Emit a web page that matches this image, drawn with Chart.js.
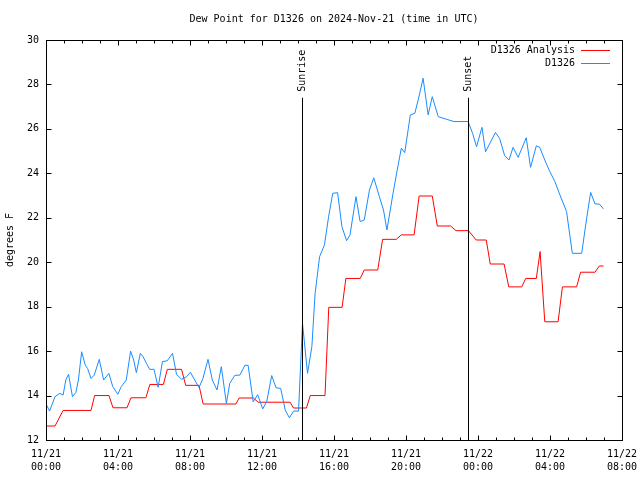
<!DOCTYPE html>
<html>
<head>
<meta charset="utf-8">
<title>Dew Point D1326</title>
<script src="https://cdn.jsdelivr.net/npm/chart.js@4.4.1/dist/chart.umd.min.js"></script>
<style>
  html, body { margin: 0; padding: 0; background: #fff; }
</style>
</head>
<body>
<canvas id="myChart" width="640" height="480"></canvas>
<script>
// hours since 2024-11-21 00:00 UTC
const obsHours = [
  0, 0.2, 0.5, 0.77, 0.95, 1.1, 1.25, 1.47, 1.66, 1.8,
  1.98, 2.18, 2.31, 2.5, 2.68, 2.96, 3.2, 3.49, 3.71, 3.99,
  4.18, 4.46, 4.7, 4.87, 5.02, 5.24, 5.39, 5.58, 5.76, 6.0,
  6.23, 6.47, 6.73, 7.03, 7.25, 7.53, 7.81, 8.02, 8.26, 8.5,
  8.72, 9.0, 9.24, 9.5, 9.74, 10.02, 10.21, 10.49, 10.77, 11.05,
  11.23, 11.51, 11.76, 12.04, 12.26, 12.54, 12.78, 13.04, 13.29, 13.52,
  13.75, 14.03, 14.25, 14.53, 14.77, 14.95, 15.2, 15.47, 15.7, 15.93,
  16.2, 16.44, 16.7, 16.89, 17.22, 17.45, 17.68, 17.97, 18.21, 18.52,
  18.75, 18.94, 19.28, 19.5, 19.74, 19.93, 20.24, 20.49, 20.73, 20.95,
  21.23, 21.46, 21.79, 22.26, 22.67, 23.45, 23.7, 23.92, 24.22, 24.42,
  24.97, 25.2, 25.48, 25.72, 25.95, 26.23, 26.68, 26.92, 27.24, 27.43,
  27.71, 27.99, 28.27, 28.55, 28.92, 29.24, 29.76, 30.04, 30.26, 30.5,
  30.74, 30.97
];
const obsDewPoint = [
  13.62, 13.3, 13.95, 14.1, 14.02, 14.7, 14.96, 13.95, 14.14, 14.7,
  15.97, 15.37, 15.22, 14.77, 14.92, 15.63, 14.7, 15.0, 14.4, 14.06,
  14.4, 14.7, 16.0, 15.6, 15.03, 15.9, 15.75, 15.45, 15.18, 15.18,
  14.37, 15.53, 15.56, 15.9, 14.96, 14.73, 14.85, 15.05, 14.7, 14.36,
  14.77, 15.63, 14.7, 14.25, 15.3, 13.65, 14.55, 14.91, 14.92, 15.36,
  15.36, 13.72, 14.04, 13.4, 13.72, 14.9, 14.35, 14.32, 13.35, 13.0,
  13.3, 13.3, 17.25, 15.0, 16.2, 18.6, 20.25, 20.78, 22.05, 23.1,
  23.13, 21.6, 20.97, 21.23, 22.95, 21.83, 21.9, 23.25, 23.8, 22.95,
  22.35, 21.45, 23.1, 24.1, 25.13, 24.93, 26.63, 26.7, 27.48, 28.28,
  26.63, 27.45, 26.55, 26.43, 26.33, 26.33, 25.8, 25.2, 26.07, 24.97,
  25.84, 25.57, 24.8, 24.6, 25.17, 24.72, 25.6, 24.27, 25.24, 25.17,
  24.6, 24.08, 23.63, 23.03, 22.28, 20.4, 20.4, 22.0, 23.14, 22.62,
  22.62, 22.4
];

const anaHours = [
  0, 0.5, 0.95, 2.5, 2.7, 3.5, 3.72, 4.5, 4.72, 5.55,
  5.77, 6.52, 6.74, 7.53, 7.76, 8.5, 8.73, 10.55, 10.73, 11.52,
  11.79, 13.56, 13.75, 14.47, 14.68, 15.5, 15.71, 16.45, 16.66, 17.46,
  17.68, 18.43, 18.7, 19.46, 19.74, 20.45, 20.73, 21.46, 21.74, 22.48,
  22.78, 23.47, 23.9, 24.46, 24.68, 25.45, 25.71, 26.43, 26.65, 27.24,
  27.45, 27.71, 28.45, 28.69, 29.48, 29.7, 30.5, 30.74, 30.97
];
const anaDewPoint = [
  12.63, 12.63, 13.33, 13.33, 14.0, 14.0, 13.45, 13.45, 13.9, 13.9,
  14.5, 14.5, 15.18, 15.18, 14.46, 14.46, 13.62, 13.62, 13.89, 13.89,
  13.7, 13.7, 13.44, 13.44, 14.0, 14.0, 17.97, 17.97, 19.27, 19.27,
  19.65, 19.65, 21.03, 21.03, 21.23, 21.23, 22.98, 22.98, 21.63, 21.63,
  21.42, 21.42, 21.0, 21.0, 19.92, 19.92, 18.89, 18.89, 19.27, 19.27,
  20.48, 17.32, 17.32, 18.89, 18.89, 19.55, 19.55, 19.83, 19.83
];

const eventNames = ["Sunrise", "Sunset"];
const eventHours = [14.22, 23.46];
const eventTop = 27.4; // degrees F where the marker lines stop

const tickHours = [0, 4, 8, 12, 16, 20, 24, 28, 32];
const tickDates = ["11/21", "11/21", "11/21", "11/21", "11/21", "11/21", "11/22", "11/22", "11/22"];
const tickTimes = ["00:00", "04:00", "08:00", "12:00", "16:00", "20:00", "00:00", "04:00", "08:00"];

const MONO = "'DejaVu Sans Mono', 'Liberation Mono', monospace";
Chart.defaults.font.family = MONO;
Chart.defaults.font.size = 10;
Chart.defaults.color = "#000";

function toPoints(xs, ys) {
  return xs.map((x, i) => ({ x: x, y: ys[i] }));
}

// gnuplot-like frame: box, inward ticks on all sides, sun markers, key
const gnuplotFrame = {
  id: "gnuplotFrame",
  afterDatasetsDraw(chart) {
    const { ctx, chartArea: a, scales } = chart;
    const xs = scales.x, ys = scales.y;
    const L = Math.round(a.left) + 0.5, R = Math.round(a.right) + 0.5;
    const T = Math.round(a.top) + 0.5, B = Math.round(a.bottom) + 0.5;
    ctx.save();
    ctx.strokeStyle = "#000";
    ctx.lineWidth = 1;
    ctx.beginPath();
    for (let h = 0; h <= 32; h++) {
      const px = Math.round(xs.getPixelForValue(h)) + 0.5;
      const len = h % 4 === 0 ? 5 : 3;
      ctx.moveTo(px, B); ctx.lineTo(px, B - len);
      ctx.moveTo(px, T); ctx.lineTo(px, T + len);
    }
    for (let v = 12; v <= 30; v += 2) {
      const py = Math.round(ys.getPixelForValue(v)) + 0.5;
      ctx.moveTo(L, py); ctx.lineTo(L + 5, py);
      ctx.moveTo(R, py); ctx.lineTo(R - 5, py);
    }
    ctx.stroke();
    ctx.strokeRect(L, T, R - L, B - T);

    // sunrise / sunset
    ctx.font = "10px " + MONO;
    ctx.fillStyle = "#000";
    eventHours.forEach((h, i) => {
      const px = Math.round(xs.getPixelForValue(h)) + 0.5;
      const top = ys.getPixelForValue(eventTop);
      ctx.beginPath();
      ctx.moveTo(px, B);
      ctx.lineTo(px, top);
      ctx.stroke();
      ctx.save();
      ctx.translate(px, top - 6);
      ctx.rotate(-Math.PI / 2);
      ctx.textAlign = "left";
      ctx.textBaseline = "middle";
      ctx.fillText(eventNames[i], 0, 0);
      ctx.restore();
    });

    // key, top right inside the plot
    chart.data.datasets.forEach((ds, i) => {
      const rowY = Math.round(a.top + 10 + i * 12.5) + 0.5;
      ctx.textAlign = "right";
      ctx.textBaseline = "middle";
      ctx.fillStyle = "#000";
      ctx.fillText(ds.label, a.right - 47, rowY);
      ctx.strokeStyle = ds.borderColor;
      ctx.beginPath();
      ctx.moveTo(a.right - 41, rowY);
      ctx.lineTo(a.right - 12, rowY);
      ctx.stroke();
    });
    ctx.restore();
  }
};

const ctx = document.getElementById("myChart").getContext("2d");
const chart = new Chart(ctx, {
  type: "line",
  data: {
    datasets: [
      {
        label: "D1326 Analysis",
        data: toPoints(anaHours, anaDewPoint),
        borderColor: "#ff0000",
        borderWidth: 1,
        pointRadius: 0,
        tension: 0,
        order: 1,
      },
      {
        label: "D1326",
        data: toPoints(obsHours, obsDewPoint),
        borderColor: "#1a8cff",
        borderWidth: 1,
        pointRadius: 0,
        tension: 0,
        order: 0,
      },
    ],
  },
  options: {
    responsive: false,
    animation: false,
    layout: { padding: { left: 0, right: 18, top: 0, bottom: 0 } },
    plugins: {
      legend: { display: false },
      tooltip: { enabled: false },
      title: {
        display: true,
        text: "Dew Point for D1326 on 2024-Nov-21 (time in UTC)",
        fullSize: false,
        font: { family: MONO, size: 10, weight: "normal", lineHeight: 1.2 },
        color: "#000",
        padding: { top: 13, bottom: 15 },
      },
    },
    scales: {
      x: {
        type: "linear",
        min: 0,
        max: 32,
        grid: { display: false, drawTicks: false },
        border: { display: false },
        afterFit(scale) {
          scale.height = 40;
          scale.paddingLeft = 0;
          scale.paddingRight = 0;
        },
        afterBuildTicks(scale) {
          scale.ticks = tickHours.map((h) => ({ value: h }));
        },
        ticks: {
          autoSkip: false,
          maxRotation: 0,
          padding: 8,
          font: { family: MONO, size: 10, lineHeight: 1.3 },
          callback(value) {
            const i = tickHours.indexOf(value);
            return i < 0 ? "" : [tickDates[i], tickTimes[i]];
          },
        },
      },
      y: {
        min: 12,
        max: 30,
        grid: { display: false, drawTicks: false },
        border: { display: false },
        afterFit(scale) {
          scale.width = 46;
          scale.paddingTop = 0;
          scale.paddingBottom = 0;
        },
        ticks: { stepSize: 2, padding: 7, font: { family: MONO, size: 10 } },
        title: {
          display: true,
          text: "degrees F",
          font: { family: MONO, size: 10 },
          padding: { top: 4, bottom: 4 },
        },
      },
    },
  },
  plugins: [gnuplotFrame],
});
</script>
</body>
</html>
